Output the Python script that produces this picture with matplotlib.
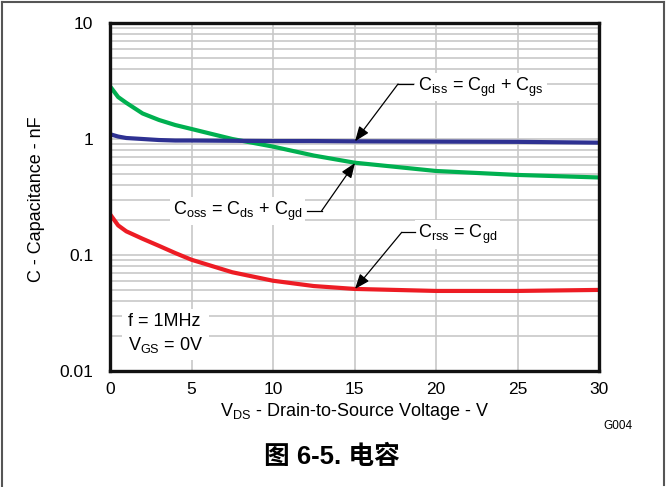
import matplotlib
matplotlib.use("Agg")
import matplotlib.pyplot as plt
from matplotlib.lines import Line2D
from matplotlib.ticker import LogLocator, FixedLocator, NullFormatter

plt.rcParams['font.family'] = ['Liberation Sans', 'Noto Sans CJK SC', 'DejaVu Sans']
plt.rcParams['mathtext.fontset'] = 'custom'
plt.rcParams['mathtext.rm'] = 'Liberation Sans'
plt.rcParams['mathtext.it'] = 'Liberation Sans'
plt.rcParams['mathtext.bf'] = 'Liberation Sans:bold'

# ---- data ----
vds = [0, 0.5, 1, 2, 3, 4, 5, 7.5, 10, 12.5, 15, 20, 25, 30]
ciss = [1.10, 1.05, 1.02, 1.00, 0.98, 0.97, 0.97, 0.965, 0.96, 0.96, 0.955, 0.95, 0.945, 0.93]
coss = [2.85, 2.30, 2.05, 1.66, 1.46, 1.32, 1.22, 1.00, 0.86, 0.72, 0.625, 0.53, 0.49, 0.466]
crss = [0.225, 0.18, 0.16, 0.138, 0.12, 0.104, 0.091, 0.071, 0.060, 0.054, 0.051, 0.049, 0.049, 0.050]

x_ticks = [0, 5, 10, 15, 20, 25, 30]
y_ticks = [0.01, 0.1, 1, 10]
y_tick_labels = ['0.01', '0.1', '1', '10']

W, H = 668, 487
fig = plt.figure(figsize=(W / 100, H / 100), dpi=100)
L, R, T, B = 110, 599, 23, 371
ax = fig.add_axes([L / W, 1 - B / H, (R - L) / W, (B - T) / H])

ax.set_yscale('log')
ax.set_xlim(0, 30)
ax.set_ylim(0.01, 10)

grid_c = '#c8c8c8'
ax.xaxis.set_major_locator(FixedLocator(x_ticks))
ax.set_xticklabels([str(v) for v in x_ticks])
ax.yaxis.set_major_locator(FixedLocator(y_ticks))
ax.set_yticklabels(y_tick_labels)
ax.yaxis.set_minor_locator(LogLocator(base=10, subs=range(2, 10)))
ax.yaxis.set_minor_formatter(NullFormatter())
ax.grid(True, which='major', axis='both', color=grid_c, lw=1.2, zorder=0)
ax.grid(True, which='minor', axis='y', color=grid_c, lw=1.2, zorder=0)
ax.tick_params(which='both', length=0, labelsize=12.5)
ax.tick_params(axis='y', pad=12)
ax.tick_params(axis='x', pad=8)
for s in ax.spines.values():
    s.set_linewidth(2.4)
    s.set_color('#111111')
    s.set_zorder(5)

ax.plot(vds, coss, color='#00b050', lw=3.0, zorder=3, solid_capstyle='butt')
ax.plot(vds, ciss, color='#2e3192', lw=3.0, zorder=3, solid_capstyle='butt')
ax.plot(vds, crss, color='#ed1c24', lw=3.0, zorder=3, solid_capstyle='butt')

fs = 13
box = dict(facecolor='white', edgecolor='none', pad=2)
arrow = dict(arrowstyle='-|>,head_length=0.9,head_width=0.35', color='black', lw=0.9,
             shrinkA=0, shrinkB=0)

# Ciss annotation
ax.text(18.9, 2.81, r'C$_{\mathrm{iss}}$ = C$_{\mathrm{gd}}$ + C$_{\mathrm{gs}}$', fontsize=fs,
        va='center', ha='left', bbox=box, zorder=6)
ax.plot([17.67, 18.6], [2.98, 2.98], color='black', lw=0.9, zorder=6)
ax.annotate('', xy=(15.03, 0.955), xytext=(17.67, 2.98), arrowprops=arrow, zorder=6)

# Coss annotation
ax.text(11.8, 0.239, r'C$_{\mathrm{oss}}$ = C$_{\mathrm{ds}}$ + C$_{\mathrm{gd}}$', fontsize=fs,
        va='center', ha='right', bbox=box, zorder=6)
ax.plot([12.06, 12.98], [0.240, 0.240], color='black', lw=0.9, zorder=6)
ax.annotate('', xy=(15.03, 0.621), xytext=(12.98, 0.240), arrowprops=arrow, zorder=6)

# Crss annotation
ax.text(18.9, 0.150, r'C$_{\mathrm{rss}}$ = C$_{\mathrm{gd}}$', fontsize=fs,
        va='center', ha='left', bbox=box, zorder=6)
ax.plot([17.9, 18.7], [0.157, 0.157], color='black', lw=0.9, zorder=6)
ax.annotate('', xy=(15.03, 0.0510), xytext=(17.9, 0.157), arrowprops=arrow, zorder=6)

# conditions
ax.text(1.1, 0.0208, 'f = 1MHz\nV$_{\\mathrm{GS}}$ = 0V', fontsize=fs, va='center', ha='left',
        linespacing=1.3, bbox=dict(facecolor='white', edgecolor='none', pad=4), zorder=6)

# axis labels
fig.text(355 / W, 1 - 411 / H, r'V$_{\mathrm{DS}}$ - Drain-to-Source Voltage - V', fontsize=fs,
         ha='center', va='center')
fig.text(37 / W, 1 - 199 / H, 'C - Capacitance - nF', fontsize=fs, rotation=90,
         ha='center', va='center')
fig.text(633 / W, 1 - 426 / H, 'G004', fontsize=8.5, ha='right', va='center')
fig.text(332 / W, 1 - 457 / H, '图 6-5. 电容', fontsize=18.5, fontweight='bold',
         ha='center', va='center')

# outer border
bc = '#555555'
fig.add_artist(Line2D([1.5 / W, 1.5 / W], [0, 1 - 2 / H], transform=fig.transFigure, color=bc, lw=1.5))
fig.add_artist(Line2D([1.5 / W, 664 / W], [1 - 2 / H, 1 - 2 / H], transform=fig.transFigure, color=bc, lw=1.5))
fig.add_artist(Line2D([664 / W, 664 / W], [1 - 2 / H, 1 - 485 / H], transform=fig.transFigure, color=bc, lw=1.5))

fig.savefig('out.png', dpi=100)
